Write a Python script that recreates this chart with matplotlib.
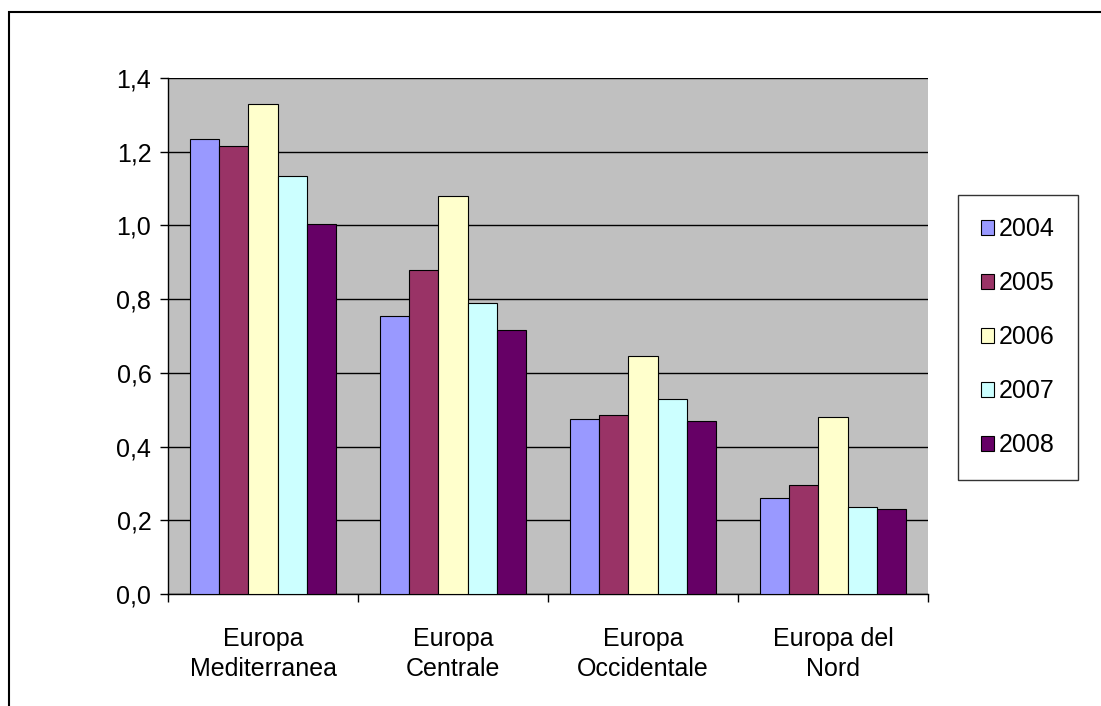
import matplotlib
matplotlib.use("Agg")
import matplotlib.pyplot as plt
from matplotlib.patches import Rectangle
import numpy as np

categories = ["Europa\nMediterranea", "Europa\nCentrale", "Europa\nOccidentale", "Europa del\nNord"]
years = ["2004", "2005", "2006", "2007", "2008"]
values = {
    "2004": [1.235, 0.755, 0.475, 0.26],
    "2005": [1.215, 0.88, 0.485, 0.295],
    "2006": [1.33, 1.08, 0.645, 0.48],
    "2007": [1.135, 0.79, 0.53, 0.235],
    "2008": [1.005, 0.715, 0.47, 0.23],
}
colors = ["#9999FF", "#993366", "#FFFFCC", "#CCFFFF", "#660066"]

W, H = 1101, 706
fig = plt.figure(figsize=(W/100, H/100), dpi=100)
fig.patches.append(Rectangle((9/W, -0.1), 1.2, 1.1-12/H, transform=fig.transFigure,
                             fill=False, edgecolor="black", linewidth=1.5))
ax = fig.add_axes([168/W, 1-594/H, 760/W, 516/H])
ax.set_facecolor("#C0C0C0")
x = np.arange(len(categories))
bw = 0.153
for i, y in enumerate(years):
    ax.bar(x + (i-2)*bw, values[y], bw, color=colors[i], edgecolor="black", linewidth=0.8, label=y, zorder=3)
ax.set_xlim(-0.5, 3.5)
ax.set_ylim(0, 1.4)
ax.set_yticks(np.arange(0, 1.41, 0.2))
ax.set_yticklabels([f"{v:.1f}".replace(".", ",") for v in np.arange(0, 1.41, 0.2)], fontsize=18, family="Liberation Sans")
ax.yaxis.grid(True, color="black", linewidth=1, zorder=1)
ax.set_xticks(np.arange(-0.5, 3.6, 1))
ax.set_xticklabels([])
ax.set_xticks(x, minor=True)
ax.set_xticklabels(categories, minor=True, fontsize=18, family="Liberation Sans", linespacing=1.3)
ax.tick_params(axis="x", which="minor", length=0, pad=24)
ax.tick_params(axis="both", which="major", direction="out", length=6, width=1)
ax.tick_params(axis="y", pad=6)
for s in ["top", "right"]:
    ax.spines[s].set_visible(False)
for s in ["left", "bottom"]:
    ax.spines[s].set_linewidth(1)
leg = ax.legend(loc="center left", bbox_to_anchor=(958/W, 1-337/H), bbox_transform=fig.transFigure,
                fancybox=False, edgecolor="black", prop={"family": "Liberation Sans", "size": 18},
                handlelength=0.55, handleheight=0.55, labelspacing=1.2, handletextpad=0.2, borderpad=0.9,
                borderaxespad=0)
leg.get_frame().set_linewidth(1)
fig.savefig("out.png", dpi=100)
